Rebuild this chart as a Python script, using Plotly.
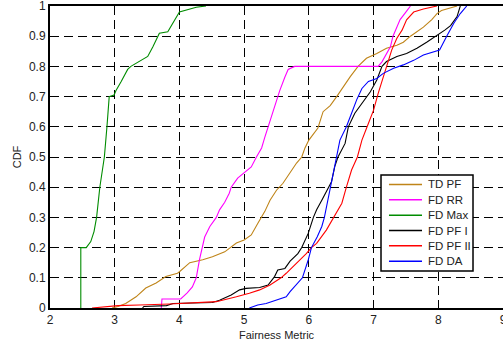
import plotly.graph_objects as go

# Empirical CDF curves of the fairness metric for each scheduler
td_pf_x = [2.96, 3.05, 3.17, 3.33, 3.48, 3.64, 3.79, 3.97, 4.0, 4.16, 4.36, 4.51, 4.70, 4.88, 5.0, 5.11,
           5.21, 5.32, 5.40, 5.50, 5.60, 5.71, 5.81, 5.89, 5.94, 6.0, 6.14, 6.22, 6.33, 6.43, 6.53, 6.64,
           6.76, 6.89, 7.05, 7.20, 7.36, 7.46, 7.57, 7.67, 7.77, 7.90, 7.98, 8.05, 8.29]
td_pf_y = [0.0, 0.005, 0.015, 0.037, 0.066, 0.083, 0.104, 0.115, 0.12, 0.15, 0.16, 0.17, 0.186, 0.215, 0.225, 0.242,
           0.28, 0.32, 0.357, 0.39, 0.413, 0.447, 0.48, 0.50, 0.53, 0.556, 0.596, 0.65, 0.67, 0.70, 0.733, 0.766,
           0.80, 0.827, 0.843, 0.86, 0.87, 0.88, 0.90, 0.915, 0.93, 0.955, 0.975, 0.985, 1.0]

fd_rr_x = [3.72, 3.73, 4.02, 4.12, 4.20, 4.26, 4.31, 4.34, 4.39, 4.47, 4.57, 4.62, 4.70, 4.77, 4.80, 4.90,
           5.0, 5.11, 5.19, 5.27, 5.32, 5.37, 5.42, 5.50, 5.55, 5.63, 5.68, 5.78, 7.07, 7.13, 7.20, 7.26,
           7.30, 7.36, 7.41, 7.49, 7.57]
fd_rr_y = [0.0, 0.03, 0.03, 0.05, 0.07, 0.10, 0.16, 0.19, 0.235, 0.27, 0.30, 0.325, 0.35, 0.38, 0.40, 0.43,
           0.447, 0.467, 0.50, 0.53, 0.566, 0.60, 0.63, 0.69, 0.72, 0.765, 0.79, 0.80, 0.80, 0.815, 0.84, 0.865,
           0.90, 0.93, 0.955, 0.977, 1.0]

fd_max_x = [2.476, 2.476, 2.56, 2.63, 2.68, 2.72, 2.77, 2.84, 2.88, 2.915, 2.99, 3.02, 3.10, 3.20, 3.25,
            3.38, 3.51, 3.59, 3.66, 3.69, 3.82, 3.92, 4.00, 4.26, 4.41]
fd_max_y = [0.0, 0.2, 0.2, 0.22, 0.253, 0.30, 0.40, 0.50, 0.60, 0.70, 0.705, 0.72, 0.75, 0.79, 0.80,
            0.816, 0.833, 0.865, 0.90, 0.91, 0.915, 0.95, 0.98, 0.996, 1.0]

fd_pf1_x = [3.43, 3.45, 3.80, 3.90, 4.51, 4.62, 4.80, 4.93, 5.03, 5.24, 5.37, 5.47, 5.52, 5.63, 5.71, 5.83,
            5.89, 5.99, 6.07, 6.12, 6.20, 6.31, 6.35, 6.40, 6.45, 6.56, 6.61, 6.71, 6.84, 6.95, 7.05, 7.13,
            7.20, 7.36, 7.51, 7.67, 7.82, 7.93, 8.0, 8.1, 8.19, 8.29, 8.34]
fd_pf1_y = [0.0, 0.005, 0.008, 0.015, 0.018, 0.026, 0.043, 0.06, 0.065, 0.068, 0.076, 0.104, 0.126, 0.131, 0.155, 0.18,
            0.20, 0.247, 0.30, 0.325, 0.357, 0.40, 0.418, 0.468, 0.50, 0.545, 0.60, 0.645, 0.683, 0.716, 0.755, 0.80,
            0.816, 0.833, 0.843, 0.86, 0.88, 0.895, 0.905, 0.92, 0.935, 0.965, 1.0]

fd_pf2_x = [2.65, 2.90, 3.05, 3.38, 3.85, 4.57, 4.75, 4.88, 5.08, 5.24, 5.40, 5.57, 5.65, 5.81, 5.96, 6.04,
            6.12, 6.27, 6.38, 6.51, 6.58, 6.66, 6.75, 6.82, 6.90, 7.0, 7.07, 7.15, 7.20, 7.28, 7.36, 7.44,
            7.51, 7.62, 7.77, 7.98]
fd_pf2_y = [0.0, 0.005, 0.008, 0.01, 0.013, 0.021, 0.029, 0.037, 0.049, 0.06, 0.076, 0.10, 0.115, 0.148, 0.18, 0.20,
            0.214, 0.258, 0.30, 0.347, 0.40, 0.457, 0.50, 0.556, 0.60, 0.655, 0.71, 0.766, 0.80, 0.854, 0.893, 0.92,
            0.954, 0.98, 0.99, 1.0]

fd_da_x = [5.08, 5.21, 5.34, 5.50, 5.65, 5.71, 5.83, 5.90, 5.99, 6.04, 6.13, 6.20, 6.24, 6.33, 6.38, 6.43,
           6.48, 6.58, 6.62, 6.66, 6.74, 6.82, 6.92, 7.05, 7.15, 7.31, 7.46, 7.62, 7.77, 7.93, 8.02, 8.13,
           8.24, 8.34, 8.44]
fd_da_y = [0.0, 0.01, 0.015, 0.026, 0.037, 0.054, 0.082, 0.10, 0.159, 0.20, 0.236, 0.27, 0.30, 0.40, 0.446, 0.50,
           0.556, 0.60, 0.62, 0.645, 0.69, 0.727, 0.75, 0.76, 0.777, 0.794, 0.805, 0.82, 0.838, 0.849, 0.854, 0.90,
           0.943, 0.975, 1.0]

series_names = ["TD PF", "FD RR", "FD Max", "FD PF I", "FD PF II", "FD DA"]
series_colors = ["#BF8418", "#FF00FF", "#008C00", "#000000", "#FF0000", "#0000FF"]
series_x = [td_pf_x, fd_rr_x, fd_max_x, fd_pf1_x, fd_pf2_x, fd_da_x]
series_y = [td_pf_y, fd_rr_y, fd_max_y, fd_pf1_y, fd_pf2_y, fd_da_y]

x_ticks = [2, 3, 4, 5, 6, 7, 8, 9]
y_ticks = [0, 0.1, 0.2, 0.3, 0.4, 0.5, 0.6, 0.7, 0.8, 0.9, 1]
y_tick_text = ["0", "0.1", "0.2", "0.3", "0.4", "0.5", "0.6", "0.7", "0.8", "0.9", "1"]

fig = go.Figure()
for name, color, xs, ys in zip(series_names, series_colors, series_x, series_y):
    assert len(xs) == len(ys), name
    fig.add_trace(go.Scatter(x=xs, y=ys, mode="lines", name=name, showlegend=False,
                             line=dict(color=color, width=1.1)))

font_family = "Liberation Sans, Arial, sans-serif"
text_color = "#222222"
axis_common = dict(
    showline=True, linecolor="#000000", linewidth=2, mirror=True,
    showgrid=True, gridcolor="#000000", gridwidth=1, griddash="9px,5px",
    zeroline=False, ticks="", ticklen=0, ticklabeloverflow="allow", automargin=False,
    tickfont=dict(family=font_family, size=12, color=text_color),
)

# Boxed legend in the lower right of the axes (paper coordinates of the plot area)
legend_left, legend_right = 0.7307, 0.9338
legend_bottom, legend_top = 0.1225, 0.4404
row_step = 0.0508
first_row = 0.409
sample_x0, sample_x1, label_x = 0.7483, 0.8212, 0.829

shapes = [dict(type="rect", xref="paper", yref="paper",
               x0=legend_left, x1=legend_right, y0=legend_bottom, y1=legend_top,
               line=dict(color="#000000", width=1.5), fillcolor="#FFFFFF", layer="above")]
annotations = []
for i, (name, color) in enumerate(zip(series_names, series_colors)):
    yc = first_row - i * row_step
    shapes.append(dict(type="line", xref="paper", yref="paper",
                       x0=sample_x0, x1=sample_x1, y0=yc, y1=yc,
                       line=dict(color=color, width=1.5), layer="above"))
    annotations.append(dict(xref="paper", yref="paper", x=label_x, y=yc,
                            xanchor="left", yanchor="middle", showarrow=False,
                            text=name, font=dict(family=font_family, size=11.5, color=text_color)))

fig.update_layout(
    width=503, height=341,
    margin=dict(l=50, r=0, t=6, b=33),
    paper_bgcolor="#FFFFFF", plot_bgcolor="#FFFFFF",
    font=dict(family=font_family, size=12, color=text_color),
    xaxis=dict(range=[2, 9], tickvals=x_ticks, ticktext=[str(v) for v in x_ticks],
               title=dict(text="Fairness Metric", font=dict(size=11), standoff=8),
               **axis_common),
    yaxis=dict(range=[0, 1], tickvals=y_ticks, ticktext=y_tick_text,
               title=dict(text="CDF", font=dict(size=11), standoff=5),
               **axis_common),
    shapes=shapes,
    annotations=annotations,
    showlegend=False,
)

fig.write_html("out.html")
